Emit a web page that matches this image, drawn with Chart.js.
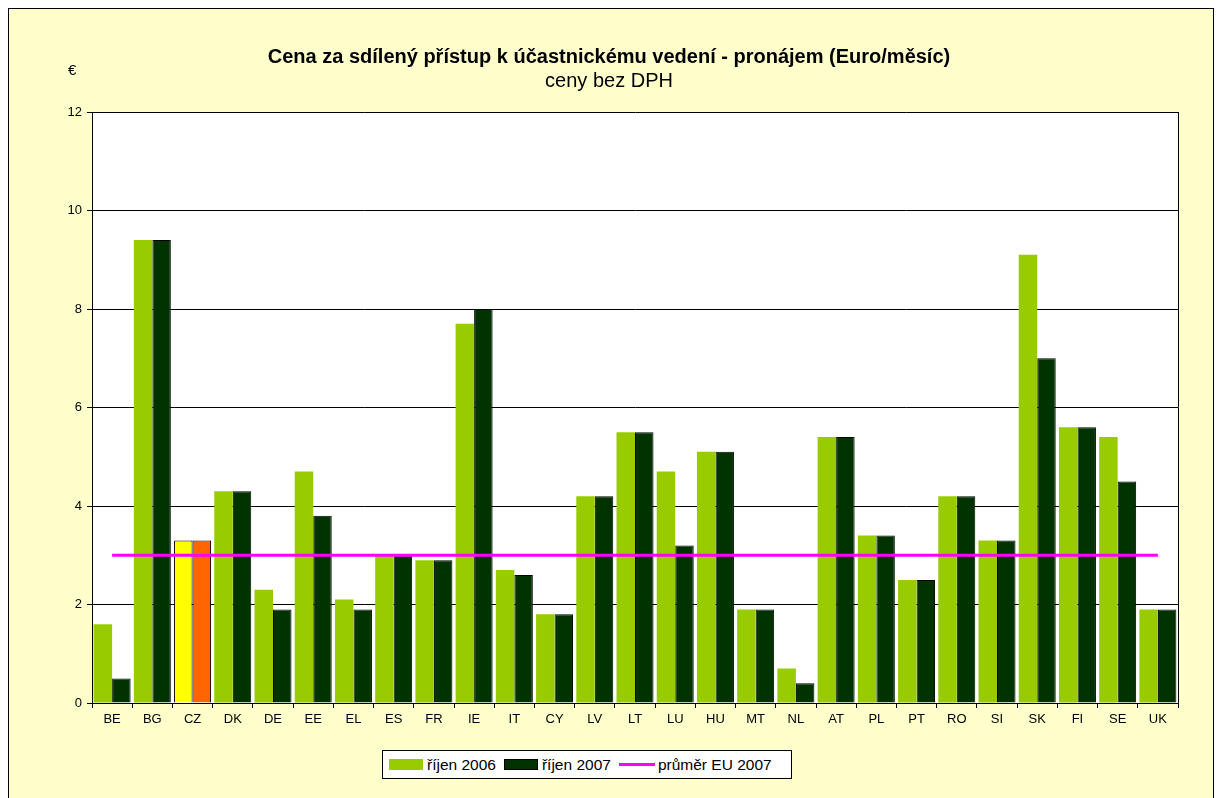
<!DOCTYPE html>
<html>
<head>
    <title>Cena za sdílený přístup k účastnickému vedení</title>
    <script src="https://cdn.jsdelivr.net/npm/chart.js"></script>
    <style>
        body { margin: 0; background: #fff; font-family: Arial, "Liberation Sans", sans-serif; }
        .frame {
            position: absolute; left: 8px; top: 8px; width: 1204px; height: 800px;
            border: 1px solid #000; background: #FFFFCC;
        }
        #chart { position: absolute; left: 0; top: 0; }
        .euro { position: absolute; left: 68px; top: 61px; font-size: 15px; color: #000; }
        .legend {
            position: absolute; left: 382px; top: 750px; width: 410px; height: 29px;
            border: 1px solid #000; background: #fff; box-sizing: border-box;
            display: flex; align-items: center; padding-left: 6px; font-size: 15.5px;
        }
        .legend .sw { display: inline-block; width: 34px; height: 11px; margin-right: 4px; }
        .legend .ln { display: inline-block; width: 36px; height: 3px; background: #FF00FF; margin-right: 3px; }
        .legend .it { display: flex; align-items: center; margin-right: 8px; }
    </style>
</head>
<body>
<div class="frame"></div>
<canvas id="chart" width="1218" height="798"></canvas>
<div class="euro">€</div>
<div class="legend">
    <span class="it"><span class="sw" style="background:#99CC00"></span>říjen 2006</span>
    <span class="it"><span class="sw" style="background:#003300;border:1px solid #000;box-sizing:border-box"></span>říjen 2007</span>
    <span class="it"><span class="ln"></span>průměr EU 2007</span>
</div>
<script>
// data
const countries = ['BE','BG','CZ','DK','DE','EE','EL','ES','FR','IE','IT','CY','LV','LT','LU','HU','MT','NL','AT','PL','PT','RO','SI','SK','FI','SE','UK'];
const oct2006 = [1.6, 9.4, 3.3, 4.3, 2.3, 4.7, 2.1, 3.0, 2.9, 7.7, 2.7, 1.8, 4.2, 5.5, 4.7, 5.1, 1.9, 0.7, 5.4, 3.4, 2.5, 4.2, 3.3, 9.1, 5.6, 5.4, 1.9];
const oct2007 = [0.5, 9.4, 3.3, 4.3, 1.9, 3.8, 1.9, 3.0, 2.9, 8.0, 2.6, 1.8, 4.2, 5.5, 3.2, 5.1, 1.9, 0.4, 5.4, 3.4, 2.5, 4.2, 3.3, 7.0, 5.6, 4.5, 1.9];
const euAverage = 3.0;
const yTicks = [0, 2, 4, 6, 8, 10, 12];

const light = '#99CC00', dark = '#003300';
const col2006 = countries.map(c => c === 'CZ' ? '#FFFF00' : light);
const col2007 = countries.map(c => c === 'CZ' ? '#FF6600' : dark);
const bw2006 = countries.map(c => c === 'CZ' ? 1 : 0);

// white plot area + right frame line
const plotArea = {
    id: 'plotArea',
    beforeDraw(chart) {
        const {ctx, chartArea: a} = chart;
        ctx.save();
        ctx.fillStyle = '#fff';
        ctx.fillRect(a.left, a.top, a.right - a.left, a.bottom - a.top);
        ctx.restore();
    },
    afterDraw(chart) {
        const {ctx, chartArea: a} = chart;
        ctx.save();
        ctx.strokeStyle = '#000';
        ctx.lineWidth = 1;
        ctx.beginPath();
        ctx.moveTo(a.right + 0.5, a.top);
        ctx.lineTo(a.right + 0.5, a.bottom);
        ctx.stroke();
        ctx.restore();
    }
};

const font = { family: 'Arial, "Liberation Sans", sans-serif', size: 13 };

new Chart(document.getElementById('chart'), {
    type: 'bar',
    data: {
        labels: countries,
        datasets: [{
            label: 'říjen 2006',
            data: oct2006,
            backgroundColor: col2006,
            borderColor: '#000',
            borderWidth: bw2006,
            categoryPercentage: 0.92,
            barPercentage: 1.0,
            order: 1
        }, {
            label: 'říjen 2007',
            data: oct2007,
            backgroundColor: col2007,
            borderColor: '#000',
            borderWidth: 1,
            categoryPercentage: 0.92,
            barPercentage: 1.0,
            order: 1
        }, {
            type: 'line',
            label: 'průměr EU 2007',
            data: countries.map(() => euAverage),
            borderColor: '#FF00FF',
            borderWidth: 3,
            pointRadius: 0,
            fill: false,
            order: 0
        }]
    },
    options: {
        responsive: false,
        animation: false,
        layout: { padding: { top: 45, right: 0, bottom: 65, left: 0 } },
        plugins: {
            legend: { display: false },
            tooltip: { enabled: false },
            title: {
                display: true,
                text: 'Cena za sdílený přístup k účastnickému vedení - pronájem (Euro/měsíc)',
                color: '#000',
                font: { family: font.family, size: 20, weight: 'bold' },
                padding: { top: 0, bottom: 0 }
            },
            subtitle: {
                display: true,
                text: 'ceny bez DPH',
                color: '#000',
                font: { family: font.family, size: 20 },
                padding: { top: 0, bottom: 19 }
            }
        },
        scales: {
            x: {
                grid: { offset: true, drawOnChartArea: false, color: '#000', tickLength: 5 },
                border: { color: '#000' },
                ticks: { color: '#000', font, padding: 4, maxRotation: 0, autoSkip: false },
                afterFit: s => { s.height = 30; }
            },
            y: {
                min: 0, max: 12,
                afterBuildTicks: s => { s.ticks = yTicks.map(v => ({ value: v })); },
                grid: { color: '#000', tickLength: 5 },
                border: { color: '#000' },
                ticks: { color: '#000', font, padding: 5 },
                afterFit: s => { s.width = 92; }
            },
            // empty right-hand gutter so the title stays centred on the page
            yRight: {
                position: 'right', min: 0, max: 12,
                grid: { display: false }, border: { display: false },
                ticks: { display: false },
                afterFit: s => { s.width = 40; }
            }
        }
    },
    plugins: [plotArea]
});
</script>
</body>
</html>
